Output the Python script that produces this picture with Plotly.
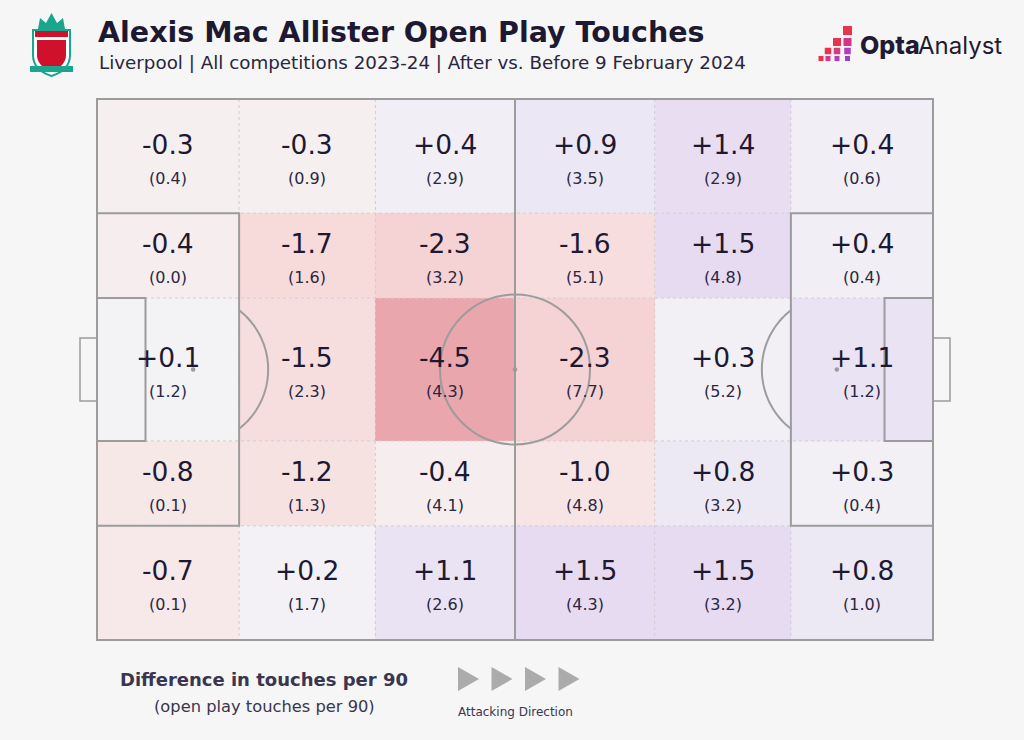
import numpy as np
import plotly.graph_objects as go

# ---------------- data ----------------
x_edges = [0, 17, 33.3, 50, 66.7, 83, 100]      # Opta pitch zone edges (length)
y_edges = [0, 21.1, 36.8, 63.2, 78.9, 100]      # Opta pitch zone edges (width)

diff = [
    [-0.3, -0.3, 0.4, 0.9, 1.4, 0.4],
    [-0.4, -1.7, -2.3, -1.6, 1.5, 0.4],
    [0.1, -1.5, -4.5, -2.3, 0.3, 1.1],
    [-0.8, -1.2, -0.4, -1.0, 0.8, 0.3],
    [-0.7, 0.2, 1.1, 1.5, 1.5, 0.8],
]
touches = [
    [0.4, 0.9, 2.9, 3.5, 2.9, 0.6],
    [0.0, 1.6, 3.2, 5.1, 4.8, 0.4],
    [1.2, 2.3, 4.3, 7.7, 5.2, 1.2],
    [0.1, 1.3, 4.1, 4.8, 3.2, 0.4],
    [0.1, 1.7, 2.6, 4.3, 3.2, 1.0],
]

title = "Alexis Mac Allister Open Play Touches"
subtitle = "Liverpool | All competitions 2023-24 | After vs. Before 9 February 2024"
legend_title = "Difference in touches per 90"
legend_sub = "(open play touches per 90)"
direction_label = "Attacking Direction"

# ---------------- geometry ----------------
W, H = 1024, 740
PX0, PY0 = 97, 99          # pixel position of pitch origin
SX, SY = 8.36, 5.41        # pixels per pitch unit
xr = [-PX0 / SX, (W - PX0) / SX]
yr = [(H - PY0) / SY, -PY0 / SY]

BG = "#f6f6f6"
LINE = "#9c9c9c"
DARK = "#1d1932"
FONT = "DejaVu Sans"

def px(x):
    return x / W

def py(y):
    return 1 - y / H

zmin, zmax = -4.5, 1.5
def t(v):
    return (v - zmin) / (zmax - zmin)

colorscale = [
    [t(-4.5), "rgb(233,166,172)"],
    [t(-2.3), "rgb(245,210,211)"],
    [t(-1.5), "rgb(247,222,222)"],
    [t(-0.8), "rgb(247,232,232)"],
    [t(0.0), "rgb(244,243,244)"],
    [t(0.4), "rgb(241,239,245)"],
    [t(0.8), "rgb(237,233,244)"],
    [t(1.5), "rgb(231,219,241)"],
]

fig = go.Figure()
fig.add_trace(go.Heatmap(
    z=diff, x=x_edges, y=y_edges, colorscale=colorscale,
    zmin=zmin, zmax=zmax, showscale=False, hoverinfo="skip", xgap=0, ygap=0,
))

shapes = []
# dotted zone grid
for xe in x_edges[1:-1]:
    shapes.append(dict(type="line", x0=xe, x1=xe, y0=0, y1=100,
                       line=dict(color="#cfcfcf", width=1, dash="dot")))
for ye in y_edges[1:-1]:
    shapes.append(dict(type="line", x0=0, x1=100, y0=ye, y1=ye,
                       line=dict(color="#cfcfcf", width=1, dash="dot")))

solid = dict(color=LINE, width=2)
# outline and halfway line
shapes.append(dict(type="rect", x0=0, x1=100, y0=0, y1=100, line=solid))
shapes.append(dict(type="line", x0=50, x1=50, y0=0, y1=100, line=solid))
# centre circle (75 px radius)
R = 75
shapes.append(dict(type="circle", x0=50 - R / SX, x1=50 + R / SX,
                   y0=50 - R / SY, y1=50 + R / SY, line=solid))
# penalty areas, six-yard boxes, goals
for x0, x1 in [(0, 17), (83, 100)]:
    shapes.append(dict(type="rect", x0=x0, x1=x1, y0=21.1, y1=78.9, line=solid))
for x0, x1 in [(0, 5.8), (94.2, 100)]:
    shapes.append(dict(type="rect", x0=x0, x1=x1, y0=36.8, y1=63.2, line=solid))
gw = 17 / SX
for x0, x1 in [(-gw, 0), (100, 100 + gw)]:
    shapes.append(dict(type="rect", x0=x0, x1=x1, y0=44.2, y1=55.8,
                       line=dict(color=LINE, width=1.5)))
# penalty arcs
for cx, sgn, edge in [(11.5, 1, 17), (88.5, -1, 83)]:
    dx_px = abs(edge - cx) * SX
    a = np.arccos(dx_px / R)
    th = np.linspace(-a, a, 60)
    xs = cx + sgn * R * np.cos(th) / SX
    ys = 50 + R * np.sin(th) / SY
    path = "M " + " L ".join(f"{x:.3f},{y:.3f}" for x, y in zip(xs, ys))
    shapes.append(dict(type="path", path=path, line=solid))
# spots
r = 2.3
for cx in [11.5, 50, 88.5]:
    shapes.append(dict(type="circle", x0=cx - r / SX, x1=cx + r / SX,
                       y0=50 - r / SY, y1=50 + r / SY,
                       fillcolor=LINE, line=dict(width=0)))

# attacking direction triangles
for i in range(4):
    x0 = 458 + i * 33.5
    shapes.append(dict(type="path", xref="paper", yref="paper",
                       path=f"M {px(x0)},{py(667)} L {px(x0+21)},{py(679)} L {px(x0)},{py(691)} Z",
                       fillcolor="#ababab", line=dict(width=0)))

# Opta logo squares
sq_cols = [821, 828, 837, 847.5]
sq_rows = [(30.5, 9), (42, 8), (51, 6.5), (58.5, 5)]
sq_colors = {
    (0, 3): "#e8334d",
    (1, 2): "#e8334d", (1, 3): "#d5338a",
    (2, 1): "#e8334d", (2, 2): "#d93a7a", (2, 3): "#b43ac0",
    (3, 0): "#e8334d", (3, 1): "#d4398a", (3, 2): "#b73bb8", (3, 3): "#9a3fd5",
}
for (ri, ci), col in sq_colors.items():
    cy, s = sq_rows[ri]
    cx = sq_cols[ci]
    shapes.append(dict(type="rect", xref="paper", yref="paper",
                       x0=px(cx - s / 2), x1=px(cx + s / 2),
                       y0=py(cy + s / 2), y1=py(cy - s / 2),
                       fillcolor=col, line=dict(width=0)))

# simplified Liverpool crest
crest = [
    dict(type="path", path=f"M {px(33)},{py(30)} L {px(70)},{py(30)} L {px(70)},{py(55)} "
                            f"Q {px(70)},{py(70)} {px(51.5)},{py(76)} Q {px(33)},{py(70)} {px(33)},{py(55)} Z",
         fillcolor="#ffffff", line=dict(color="#1aa58f", width=2)),
    dict(type="path", path=f"M {px(37)},{py(40)} L {px(66)},{py(40)} L {px(66)},{py(55)} "
                            f"Q {px(66)},{py(66)} {px(51.5)},{py(71)} Q {px(37)},{py(66)} {px(37)},{py(55)} Z",
         fillcolor="#d0112b", line=dict(width=0)),
    dict(type="rect", x0=px(35), x1=px(68), y0=py(37), y1=py(31),
         fillcolor="#d0112b", line=dict(width=0)),
    dict(type="path", path=f"M {px(38)},{py(29)} L {px(40)},{py(18)} L {px(46)},{py(23)} L {px(51.5)},{py(13)} "
                            f"L {px(57)},{py(23)} L {px(63)},{py(18)} L {px(65)},{py(29)} Z",
         fillcolor="#1aa58f", line=dict(width=0)),
    dict(type="rect", x0=px(30), x1=px(73), y0=py(72), y1=py(66),
         fillcolor="#1aa58f", line=dict(width=0)),
]
for c in crest:
    c.setdefault("xref", "paper")
    c.setdefault("yref", "paper")
    shapes.append(c)

annotations = []
# cell labels
for i in range(len(diff)):
    cy = (y_edges[i] + y_edges[i + 1]) / 2
    for j in range(len(diff[i])):
        cx = (x_edges[j] + x_edges[j + 1]) / 2
        annotations.append(dict(x=cx, y=cy, text=f"{diff[i][j]:+.1f}", showarrow=False,
                                yshift=12, font=dict(family=FONT, size=26.5, color=DARK)))
        annotations.append(dict(x=cx, y=cy, text=f"({touches[i][j]:.1f})", showarrow=False,
                                yshift=-22, font=dict(family=FONT, size=16, color="#2b2742")))

def pa(text, x, y, size, color=DARK, family=FONT, weight="normal", xanchor="left"):
    annotations.append(dict(xref="paper", yref="paper", x=px(x), y=py(y), text=text,
                            showarrow=False, xanchor=xanchor, yanchor="middle",
                            font=dict(family=family, size=size, color=color, weight=weight)))

pa(title, 96, 32, 28.5, weight="bold")
pa(subtitle, 97, 62, 18.3, color="#2a2540")
pa(legend_title, 264, 679, 18, color="#3a3550", weight="bold", xanchor="center")
pa(legend_sub, 264, 706, 16.3, color="#3a3550", xanchor="center")
pa(direction_label, 515, 712, 12, color="#3a3550", xanchor="center")
pa("Opta", 858, 45, 25, color="#1f1a35", family="Inter", weight=800)
pa("Analyst", 916, 45, 24, color="#1f1a35", family="Inter")

fig.update_layout(
    width=W, height=H, margin=dict(l=0, r=0, t=0, b=0),
    paper_bgcolor=BG, plot_bgcolor=BG,
    xaxis=dict(range=xr, visible=False, fixedrange=True),
    yaxis=dict(range=yr, visible=False, fixedrange=True),
    shapes=shapes, annotations=annotations, showlegend=False,
)

fig.write_html("out.html", config={"displayModeBar": False},
               post_script="document.body.style.margin='0px';document.body.style.background='#f6f6f6';")
